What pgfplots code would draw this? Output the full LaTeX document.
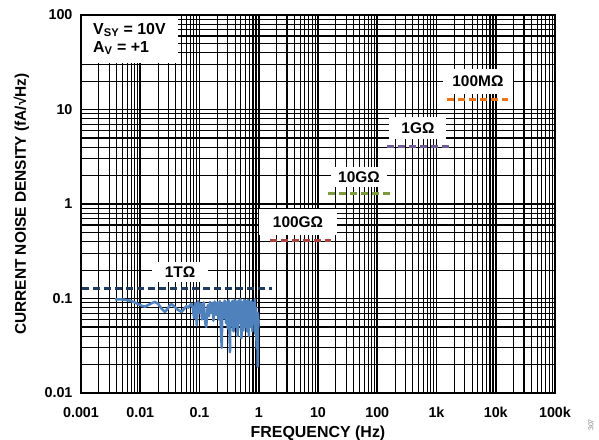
\documentclass[border=0pt]{standalone}
\usepackage{fontspec}
\setmainfont{Liberation Sans}
\usepackage{pgfplots}
\pgfplotsset{compat=1.18}
\definecolor{cBlue}{HTML}{4F81BD}
\definecolor{cNavy}{HTML}{1F3A60}
\definecolor{cRed}{HTML}{A8433E}
\definecolor{cGreen}{HTML}{7D9B3C}
\definecolor{cPurple}{HTML}{6E5B96}
\definecolor{cOrange}{HTML}{EB7417}
\begin{document}
\begin{tikzpicture}
\useasboundingbox (-81bp,-47bp) rectangle (518bp,393bp);
\begin{axis}[
  at={(0,0)}, anchor=south west,
  scale only axis, width=474bp, height=378bp,
  xmode=log, ymode=log,
  xmin=0.001, xmax=100000, ymin=0.01, ymax=100,
  xtick={0.001,0.01,0.1,1,10,100,1000,10000,100000},
  xticklabels={0.001,0.01,0.1,1,10,100,1k,10k,100k},
  ytick={0.01,0.1,1,10,100},
  yticklabels={0.01,0.1,1,10,100},
  grid=both,
  major grid style={black, line width=1.6bp},
  minor grid style={black, line width=1.1bp},
  axis line style={black, line width=1.8bp},
  major tick length=0pt, minor tick length=0pt,
  /pgf/number format/assume math mode=true,
  ticklabel style={font=\bfseries\fontsize{14.4}{14.4}\selectfont},
  xticklabel style={anchor=base, yshift=-24bp},
  yticklabel style={anchor=east, xshift=-5bp},
  xlabel={FREQUENCY (Hz)},
  ylabel={CURRENT NOISE DENSITY (fA/√Hz)},
  xlabel style={font=\bfseries\fontsize{16}{16}\selectfont, at={(axis description cs:0.5,-0.108)}, anchor=center},
  ylabel style={font=\bfseries\fontsize{15.5}{15.5}\selectfont, at={(axis description cs:-0.126,0.5)}, anchor=center},
  clip=true,
]
% measured noise
\addplot[color=cBlue, line width=2.5bp, line join=round] coordinates {
(0.00375,0.098) (0.0045,0.098) (0.0055,0.097) (0.0067,0.095) (0.008,0.091)
(0.0093,0.087) (0.0105,0.084) (0.012,0.082) (0.014,0.086) (0.016,0.090)
(0.0177,0.092) (0.02,0.088) (0.023,0.078) (0.026,0.072) (0.029,0.078)
(0.032,0.086) (0.034,0.087) (0.038,0.082) (0.043,0.076) (0.050,0.072)
(0.055,0.078) (0.060,0.083) (0.065,0.080) (0.069,0.085) (0.073,0.088)
(0.077,0.080) (0.081,0.062) (0.085,0.090) (0.090,0.052) (0.095,0.094)
(0.10,0.070) (0.105,0.088) (0.11,0.060) (0.118,0.091) (0.125,0.055)
(0.13,0.050) (0.138,0.085) (0.145,0.065) (0.15,0.092) (0.158,0.070)
(0.165,0.090) (0.172,0.058) (0.18,0.093) (0.19,0.067) (0.20,0.091)
(0.21,0.060) (0.22,0.094) (0.237,0.030) (0.245,0.090) (0.255,0.062)
(0.265,0.095) (0.28,0.055) (0.29,0.092) (0.30,0.048) (0.31,0.096)
(0.327,0.027) (0.335,0.090) (0.35,0.052) (0.36,0.094) (0.375,0.045)
(0.39,0.097) (0.40,0.050) (0.42,0.093) (0.44,0.040) (0.455,0.095)
(0.47,0.055) (0.49,0.098) (0.51,0.038) (0.53,0.092) (0.55,0.046)
(0.57,0.097) (0.59,0.050) (0.61,0.094) (0.63,0.045) (0.66,0.097)
(0.68,0.040) (0.70,0.092) (0.72,0.050) (0.75,0.094) (0.78,0.045)
(0.80,0.090) (0.83,0.055) (0.86,0.098) (0.88,0.042) (0.90,0.080)
(0.92,0.030) (0.94,0.060) (0.96,0.019) (0.97,0.070) (0.98,0.050) (1.0,0.060)
};
% resistor thermal noise levels
\addplot[color=cNavy, line width=3bp, dash pattern=on 7bp off 4bp] coordinates {(0.00105,0.128) (1.67,0.128)};
\addplot[color=cRed, line width=3bp, dash pattern=on 7bp off 4bp] coordinates {(1.55,0.406) (16.6,0.406)};
\addplot[color=cGreen, line width=3bp, dash pattern=on 7bp off 4bp] coordinates {(14.8,1.28) (164,1.28)};
\addplot[color=cPurple, line width=3bp, dash pattern=on 7bp off 4bp] coordinates {(146,4.06) (1630,4.06)};
\addplot[color=cOrange, line width=3bp, dash pattern=on 7bp off 4bp] coordinates {(1500,12.8) (16100,12.8)};
% labels
\tikzset{rlab/.style={fill=white, font=\bfseries\fontsize{15.5}{15.5}\selectfont}}
\node[rlab, inner xsep=13bp, inner ysep=4.5bp] at (axis cs:0.0469,0.1906) {1TΩ};
\node[rlab, inner xsep=13.5bp, inner ysep=7.5bp] at (axis cs:4.6,0.645) {100GΩ};
\node[rlab, inner xsep=7bp, inner ysep=5bp] at (axis cs:49.2,1.93) {10GΩ};
\node[rlab, inner xsep=12bp, inner ysep=6bp] at (axis cs:487,6.37) {1GΩ};
\node[rlab, inner xsep=9.5bp, inner ysep=7bp] at (axis cs:5000,20.0) {100MΩ};
% conditions box
\fill[white] ([xshift=1bp,yshift=-1bp]rel axis cs:0,1) rectangle ++(96bp,-47bp);
\node[anchor=north west, align=left, inner sep=0, xshift=12bp, yshift=-8bp,
  font=\bfseries\fontsize{16}{18}\selectfont] at (rel axis cs:0,1)
  {V\textsubscript{SY} = 10V\\A\textsubscript{V} = +1};
\end{axis}
\node[rotate=90, text=gray, font=\fontsize{7}{7}\selectfont, inner sep=0] at (510bp,-32bp) {307};
\end{tikzpicture}
\end{document}
